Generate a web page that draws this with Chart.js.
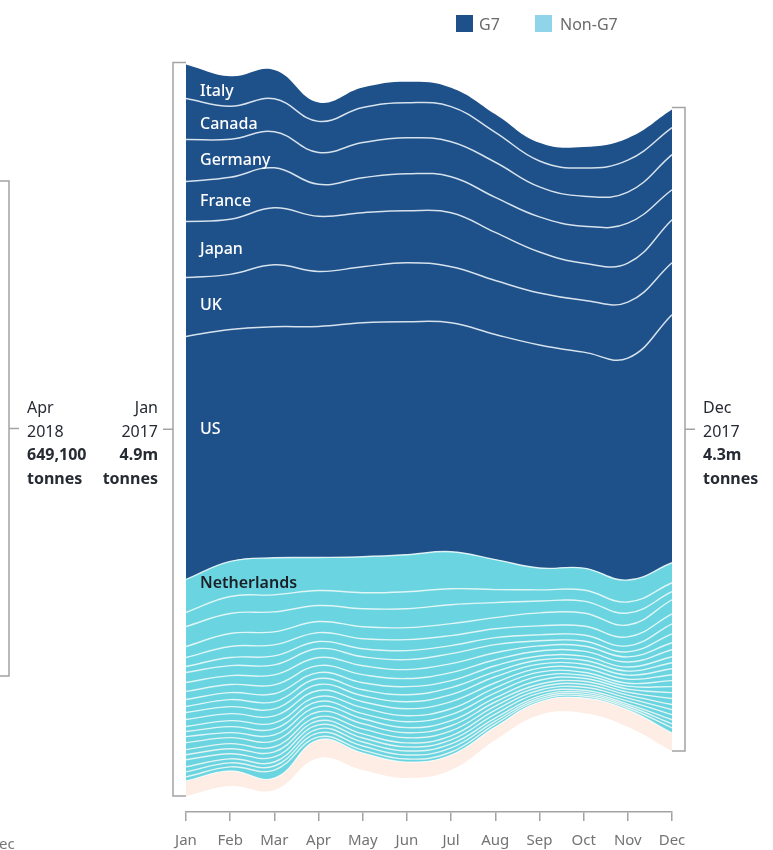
<!DOCTYPE html>
<html><head><meta charset="utf-8">
<script src="https://cdn.jsdelivr.net/npm/chart.js@4.4.1/dist/chart.umd.min.js"></script>
<style>
html,body{margin:0;padding:0;background:#fff;}
#wrap{position:relative;width:773px;height:850px;overflow:hidden;font-family:'Noto Sans',sans-serif;}
#wrap canvas{position:absolute;left:0;top:0;}
.t{position:absolute;white-space:nowrap;line-height:1;transform:translateY(-50%);font-size:16px;}
.lbl{color:#fff;font-weight:500;}
.blk{position:absolute;font-size:16px;line-height:23.5px;color:#262a33;white-space:nowrap;}
.blk b{font-weight:700;}
.sw{position:absolute;width:17px;height:17px;}
.lg{position:absolute;font-size:16px;color:#6b6b6b;line-height:1;transform:translateY(-50%);}
</style></head>
<body>
<div id="wrap">
<canvas id="c" width="773" height="850"></canvas>
<div class="sw" style="left:456px;top:15px;background:#1e5189;"></div>
<div class="lg" style="left:479px;top:24px;">G7</div>
<div class="sw" style="left:535px;top:15px;background:#8fd4e9;"></div>
<div class="lg" style="left:560px;top:24px;">Non-G7</div>

<div class="t lbl" style="left:200px;top:90px;">Italy</div>
<div class="t lbl" style="left:200px;top:123px;">Canada</div>
<div class="t lbl" style="left:200px;top:159px;">Germany</div>
<div class="t lbl" style="left:200px;top:200px;">France</div>
<div class="t lbl" style="left:200px;top:248px;">Japan</div>
<div class="t lbl" style="left:200px;top:304px;">UK</div>
<div class="t lbl" style="left:200px;top:428px;">US</div>
<div class="t" style="left:200px;top:582px;color:#1b1f26;font-weight:600;">Netherlands</div>

<div class="blk" style="left:27px;top:396px;">Apr<br>2018<br><b>649,100</b><br><b>tonnes</b></div>
<div class="blk" style="right:615px;top:396px;text-align:right;">Jan<br>2017<br><b>4.9m</b><br><b>tonnes</b></div>
<div class="blk" style="left:703px;top:396px;">Dec<br>2017<br><b>4.3m</b><br><b>tonnes</b></div>
<div class="t" style="left:-12px;top:843px;font-size:15px;color:#777;">Dec</div>
</div>
<script>
// Months
const months = ['Jan','Feb','Mar','Apr','May','Jun','Jul','Aug','Sep','Oct','Nov','Dec'];

// Streamgraph baseline offset (thousand tonnes below the stream)
const baseline = [107, 174, 147, 362, 281, 228, 281, 482, 650, 663, 570, 409];

// G7 series, thousand tonnes
const us      = [1628, 1554, 1548, 1548, 1568, 1561, 1534, 1508, 1494, 1447, 1487, 1662];
const uk      = [395, 369, 415, 369, 375, 395, 375, 362, 348, 348, 375, 348];
const japan   = [375, 369, 382, 369, 362, 348, 362, 322, 275, 248, 261, 288];
const france  = [268, 281, 268, 214, 235, 248, 241, 235, 235, 248, 268, 201];
const germany = [281, 255, 241, 214, 235, 241, 235, 235, 201, 201, 208, 235];
const canada  = [275, 221, 221, 208, 235, 235, 235, 201, 174, 188, 214, 181];
const italy   = [228, 201, 194, 127, 134, 141, 127, 121, 121, 141, 147, 121];

// Non-G7 series (largest first), thousand tonnes
const netherlands = [221, 235, 248, 221, 241, 248, 248, 201, 147, 147, 147, 134];
const nonG7_02 = [94, 114, 114, 101, 107, 114, 107, 87, 74, 74, 74, 60];
const nonG7_03 = [134, 134, 134, 107, 121, 127, 127, 101, 80, 80, 80, 54];
const nonG7_04 = [74, 87, 87, 74, 80, 80, 80, 74, 87, 87, 80, 94];
const nonG7_05 = [60, 74, 74, 60, 67, 74, 67, 60, 60, 60, 60, 67];
const nonG7_06 = [40, 54, 60, 47, 54, 60, 54, 47, 40, 40, 40, 67];
const nonG7_07 = [67, 67, 67, 60, 60, 67, 67, 54, 34, 34, 34, 60];
const nonG7_08 = [60, 60, 67, 54, 60, 60, 60, 47, 34, 34, 34, 47];
const nonG7_09 = [54, 54, 60, 47, 54, 54, 54, 40, 34, 34, 34, 47];
const nonG7_10 = [47, 47, 54, 40, 47, 54, 47, 40, 27, 27, 27, 40];
const nonG7_11 = [40, 47, 47, 40, 40, 47, 47, 34, 27, 27, 27, 40];
const nonG7_12 = [47, 47, 47, 40, 40, 47, 47, 40, 27, 27, 27, 40];
const nonG7_13 = [47, 47, 47, 40, 40, 47, 47, 34, 27, 27, 27, 40];
const nonG7_14 = [34, 40, 40, 34, 40, 40, 40, 34, 27, 20, 20, 40];
const nonG7_15 = [34, 40, 40, 34, 34, 40, 40, 34, 27, 20, 20, 40];
const nonG7_16 = [40, 34, 40, 34, 34, 34, 34, 27, 27, 20, 20, 40];
const nonG7_17 = [47, 40, 40, 34, 34, 34, 34, 27, 20, 20, 20, 40];
const nonG7_18 = [34, 34, 34, 27, 34, 34, 34, 27, 20, 20, 20, 34];
const nonG7_19 = [34, 34, 34, 27, 27, 27, 27, 27, 20, 20, 20, 34];
const nonG7_20 = [47, 34, 34, 27, 27, 27, 27, 27, 20, 13, 20, 34];
const nonG7_21 = [34, 27, 27, 27, 27, 27, 27, 20, 13, 13, 13, 27];
const nonG7_22 = [34, 27, 27, 27, 27, 27, 27, 20, 13, 13, 13, 27];
const nonG7_23 = [27, 27, 54, 20, 20, 20, 20, 20, 13, 13, 13, 34];
// Unlabelled smallest group (pale band at the bottom)
const restOfWorld = [101, 101, 80, 121, 114, 107, 101, 87, 87, 101, 114, 121];

const G7_COLOR = '#1e5189';
const NONG7_COLOR = '#6ad5e0';
const REST_COLOR = '#fdede4';

const nonG7List = [
  ['Netherlands', netherlands], ['Non-G7 2', nonG7_02], ['Non-G7 3', nonG7_03], ['Non-G7 4', nonG7_04],
  ['Non-G7 5', nonG7_05], ['Non-G7 6', nonG7_06], ['Non-G7 7', nonG7_07], ['Non-G7 8', nonG7_08],
  ['Non-G7 9', nonG7_09], ['Non-G7 10', nonG7_10], ['Non-G7 11', nonG7_11], ['Non-G7 12', nonG7_12],
  ['Non-G7 13', nonG7_13], ['Non-G7 14', nonG7_14], ['Non-G7 15', nonG7_15], ['Non-G7 16', nonG7_16],
  ['Non-G7 17', nonG7_17], ['Non-G7 18', nonG7_18], ['Non-G7 19', nonG7_19], ['Non-G7 20', nonG7_20],
  ['Non-G7 21', nonG7_21], ['Non-G7 22', nonG7_22], ['Non-G7 23', nonG7_23]
];
const g7List = [['US', us], ['UK', uk], ['Japan', japan], ['France', france], ['Germany', germany], ['Canada', canada], ['Italy', italy]];

function layer(label, data, color, border, bw) {
  return { label, data, backgroundColor: color, borderColor: border, borderWidth: bw,
           fill: '-1', pointRadius: 0, tension: 0.42 };
}
const datasets = [];
datasets.push({ label: 'baseline', data: baseline, fill: false, borderWidth: 0, pointRadius: 0,
                borderColor: 'rgba(0,0,0,0)', tension: 0.42 });
datasets.push(layer('Rest', restOfWorld, REST_COLOR, 'rgba(255,255,255,0.7)', 1.2));
for (let i = nonG7List.length - 1; i >= 0; i--) {
  const pale = i > 15 ? 'rgba(236,246,244,0.9)' : 'rgba(240,250,250,0.85)';
  datasets.push(layer(nonG7List[i][0], nonG7List[i][1], NONG7_COLOR, pale, 1.4));
}
g7List.forEach(([n, d], i) => {
  const last = i === g7List.length - 1;
  datasets.push(layer(n, d, G7_COLOR, last ? 'rgba(0,0,0,0)' : 'rgba(230,238,246,0.9)', last ? 0 : 1.5));
});

const bracketPlugin = {
  id: 'brackets',
  afterDraw(chart) {
    const ctx = chart.ctx;
    const n = chart.data.datasets.length;
    const top = chart.getDatasetMeta(n - 1).data;
    const bot = chart.getDatasetMeta(0).data;
    const x0 = top[0].x, x1 = top[top.length - 1].x;
    ctx.save();
    ctx.strokeStyle = '#a3a3a3';
    ctx.lineWidth = 1.5;
    function bracket(xe, xv, ya, yb, xt) {
      const ym = (ya + yb) / 2;
      ctx.beginPath();
      ctx.moveTo(xe, ya); ctx.lineTo(xv, ya); ctx.lineTo(xv, yb); ctx.lineTo(xe, yb);
      ctx.moveTo(xv, ym); ctx.lineTo(xt, ym);
      ctx.stroke();
    }
    bracket(x0, x0 - 13, top[0].y - 2, bot[0].y, x0 - 23);
    const k = top.length - 1;
    bracket(x1, x1 + 13, top[k].y - 2, bot[k].y, x1 + 23);
    // partially visible bracket on the far left (Apr 2018)
    bracket(0, 9, 181, 676, 19);
    ctx.restore();
  }
};

new Chart(document.getElementById('c'), {
  type: 'line',
  data: { labels: months, datasets },
  options: {
    responsive: false,
    animation: false,
    devicePixelRatio: 1,
    layout: { padding: { left: 186, right: 101, top: 6, bottom: 0 } },
    plugins: { legend: { display: false }, tooltip: { enabled: false } },
    elements: { line: { borderJoinStyle: 'round', capBezierPoints: true } },
    scales: {
      y: { display: false, stacked: true, min: 0, max: 5400 },
      x: {
        offset: false,
        afterFit(axis) { axis.height = 38; },
        grid: { display: true, drawOnChartArea: false, drawTicks: true, tickLength: 9, color: '#a3a3a3', lineWidth: 1.5 },
        border: { display: true, color: '#a3a3a3', width: 1.5 },
        ticks: { color: '#737373', font: { family: 'Noto Sans', size: 15 }, padding: 11, maxRotation: 0, autoSkip: false }
      }
    }
  },
  plugins: [bracketPlugin]
});
</script>
</body></html>
